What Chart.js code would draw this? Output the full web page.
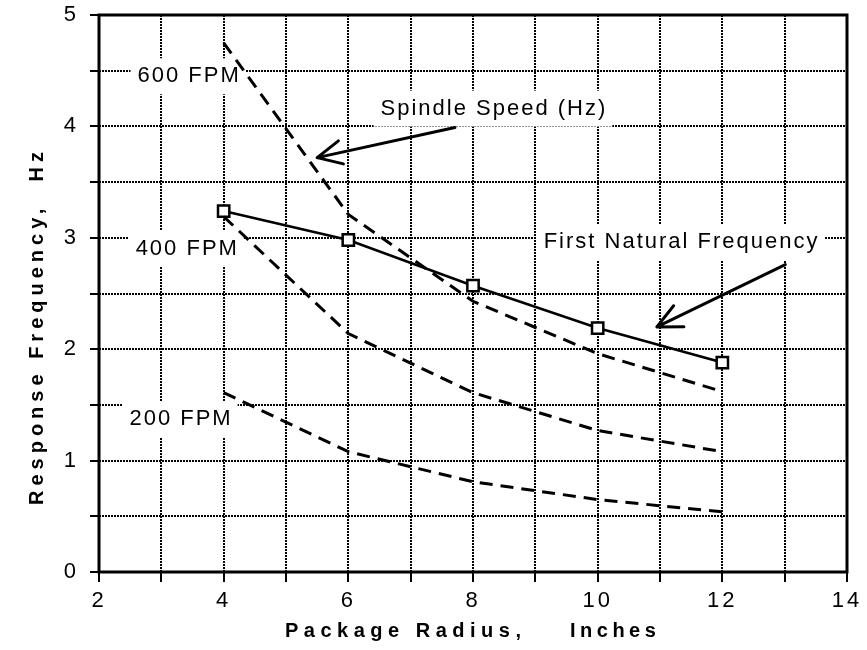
<!DOCTYPE html>
<html>
<head>
<meta charset="utf-8">
<script src="https://cdn.jsdelivr.net/npm/chart.js@4.4.1/dist/chart.umd.min.js"></script>
<style>
  html, body { margin: 0; padding: 0; background: #fff; }
  #chart { display: block; }
</style>
</head>
<body>
<canvas id="chart" width="867" height="650"></canvas>
<script>
// package radius, inches
const radius = [4, 6, 8, 10, 12];
// first natural frequency, Hz
const naturalFreq = [3.24, 2.98, 2.57, 2.19, 1.88];
// spindle speed, Hz, for three winding speeds
const speed600 = [4.75, 3.21, 2.43, 1.96, 1.62];
const speed400 = [3.19, 2.14, 1.61, 1.27, 1.08];
const speed200 = [1.61, 1.08, 0.81, 0.65, 0.54];

// labelled ticks
const xTicks = [2, 4, 6, 8, 10, 12, 14];
const yTicks = [0, 1, 2, 3, 4, 5];

// text notes on the plot, placed in data units
const notes = [
  { text: '600 FPM', x: 3.43, y: 4.45 },
  { text: '400 FPM', x: 3.40, y: 2.90 },
  { text: '200 FPM', x: 3.30, y: 1.37 },
  { text: 'Spindle Speed (Hz)', x: 8.32, y: 4.16 },
  { text: 'First Natural Frequency', x: 11.33, y: 2.96 }
];
const arrows = [
  { from: [7.71, 3.99], to: [5.50, 3.72] },
  { from: [13.01, 2.76], to: [10.95, 2.20] }
];

const pts = (ys) => radius.map((r, i) => ({ x: r, y: ys[i] }));
const FONT = "'Liberation Sans', Arial, Helvetica, sans-serif";

function dashed(ys) {
  return {
    data: pts(ys),
    borderColor: '#000',
    borderWidth: 3,
    borderDash: [13, 8],
    pointRadius: 0,
    tension: 0,
    fill: false
  };
}

const decorations = {
  id: 'decorations',
  beforeDraw(chart) {
    chart.ctx.letterSpacing = '3px';
  },
  beforeDatasetsDraw(chart) {
    // white boxes behind the notes hide the grid
    const { ctx, scales: { x, y } } = chart;
    ctx.save();
    ctx.font = '22px ' + FONT;
    ctx.letterSpacing = '2px';
    ctx.fillStyle = '#fff';
    notes.forEach(n => {
      const w = ctx.measureText(n.text).width;
      const px = x.getPixelForValue(n.x);
      const py = y.getPixelForValue(n.y);
      ctx.fillRect(px - w / 2 - 6, py - 18, w + 12, 36);
    });
    ctx.restore();
  },
  afterDraw(chart) {
    const { ctx, chartArea: a, scales: { x, y } } = chart;
    ctx.save();
    // frame
    ctx.strokeStyle = '#000';
    ctx.lineWidth = 3;
    ctx.strokeRect(a.left, a.top, a.right - a.left, a.bottom - a.top);

    // arrows
    ctx.lineWidth = 3;
    ctx.lineCap = 'round';
    arrows.forEach(ar => {
      const x0 = x.getPixelForValue(ar.from[0]), y0 = y.getPixelForValue(ar.from[1]);
      const x1 = x.getPixelForValue(ar.to[0]), y1 = y.getPixelForValue(ar.to[1]);
      const ang = Math.atan2(y0 - y1, x0 - x1);
      ctx.beginPath();
      ctx.moveTo(x0, y0);
      ctx.lineTo(x1, y1);
      [-0.45, 0.45].forEach(d => {
        ctx.moveTo(x1, y1);
        ctx.lineTo(x1 + 27 * Math.cos(ang + d), y1 + 27 * Math.sin(ang + d));
      });
      ctx.stroke();
    });

    // notes
    ctx.fillStyle = '#000';
    ctx.font = '22px ' + FONT;
    ctx.letterSpacing = '2px';
    ctx.textAlign = 'center';
    ctx.textBaseline = 'middle';
    notes.forEach(n => {
      ctx.fillText(n.text, x.getPixelForValue(n.x) + 1, y.getPixelForValue(n.y));
    });

    // axis titles
    ctx.font = 'bold 20px ' + FONT;
    ctx.letterSpacing = '5.5px';
    ctx.textBaseline = 'alphabetic';
    ctx.textAlign = 'left';
    ctx.fillText('Package Radius,', a.left + 186, a.bottom + 65);
    ctx.letterSpacing = '4.5px';
    ctx.fillText('Inches', a.left + 471, a.bottom + 65);

    ctx.translate(a.left - 56, 0);
    ctx.rotate(-Math.PI / 2);
    ctx.letterSpacing = '5px';
    ctx.textAlign = 'left';
    ctx.fillText('Response Frequency,', -(a.bottom - 67), 0);
    ctx.textAlign = 'right';
    ctx.fillText('Hz', -(a.top + 132), 0);
    ctx.restore();
  }
};

new Chart(document.getElementById('chart'), {
  type: 'line',
  data: {
    datasets: [
      dashed(speed600),
      dashed(speed400),
      dashed(speed200),
      {
        data: pts(naturalFreq),
        borderColor: '#000',
        borderWidth: 2.5,
        tension: 0,
        pointStyle: 'rect',
        pointRadius: 8,
        pointBorderWidth: 2.5,
        pointBackgroundColor: '#fff',
        pointBorderColor: '#000'
      },
      {
        // small dot in the middle of each square marker
        data: pts(naturalFreq),
        showLine: false,
        pointRadius: 1.6,
        pointBorderWidth: 0,
        pointBackgroundColor: '#000'
      }
    ]
  },
  options: {
    responsive: false,
    animation: false,
    devicePixelRatio: 1,
    layout: { padding: { left: 0, right: 20, top: 15, bottom: 0 } },
    plugins: {
      legend: { display: false },
      tooltip: { enabled: false }
    },
    scales: {
      x: {
        type: 'linear',
        min: 2,
        max: 14,
        afterFit: s => { s.height = 78; s.paddingLeft = 0; s.paddingRight = 0; },
        ticks: {
          stepSize: 1,
          autoSkip: false,
          maxRotation: 0,
          padding: 6,
          color: '#000',
          font: { family: FONT, size: 22 },
          callback: v => xTicks.includes(v) ? String(v) : ''
        },
        grid: {
          color: '#000',
          lineWidth: 2,
          tickLength: 10,
          tickBorderDash: [4, 0]
        },
        border: { display: false, dash: [2, 1] }
      },
      y: {
        min: 0,
        max: 5,
        afterFit: s => { s.width = 99; s.paddingTop = 0; s.paddingBottom = 0; },
        ticks: {
          stepSize: 0.5,
          autoSkip: false,
          padding: 11,
          color: '#000',
          font: { family: FONT, size: 22 },
          callback: v => yTicks.includes(v) ? String(v) : ''
        },
        grid: {
          color: '#000',
          lineWidth: 2,
          tickLength: 9,
          tickBorderDash: [4, 0]
        },
        border: { display: false, dash: [2, 1] }
      }
    }
  },
  plugins: [decorations]
});
</script>
</body>
</html>
